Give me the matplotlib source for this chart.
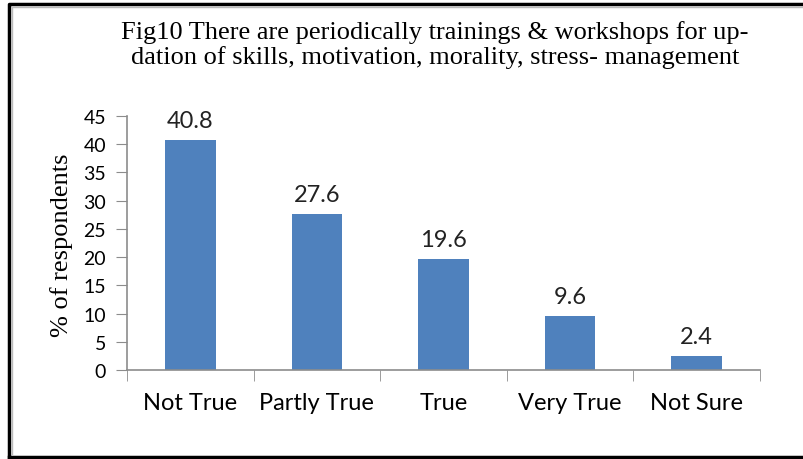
import matplotlib.pyplot as plt
from matplotlib.lines import Line2D

categories = ["Not True", "Partly True", "True", "Very True", "Not Sure"]
values = [40.8, 27.6, 19.6, 9.6, 2.4]
yticks = [0, 5, 10, 15, 20, 25, 30, 35, 40, 45]

W, H = 804, 460
fig = plt.figure(figsize=(W / 100, H / 100), dpi=100)
ax = fig.add_axes([127 / W, 1 - 371 / H, (760 - 127) / W, (371 - 117) / H])

x = list(range(len(categories)))
ax.bar(x, values, width=0.4, color="#4F81BD", zorder=2)
for xi, v in zip(x, values):
    ax.text(xi, v + 1.6, f"{v}", ha="center", va="bottom",
            family="Lato", fontsize=17, color="#222222")

ax.set_xlim(-0.5, len(categories) - 0.5)
ax.set_ylim(0, 45)
ax.set_yticks(yticks)
ax.set_yticklabels([str(t) for t in yticks], family="Lato", fontsize=14)
ax.set_xticks(x)
ax.set_xticklabels(categories, family="Lato", fontsize=17)
ax.tick_params(axis="x", length=0, pad=16)
ax.set_xticks([i - 0.5 for i in range(len(categories) + 1)], minor=True)
ax.tick_params(axis="x", which="minor", length=8, color="#8C8C8C", direction="out")
ax.tick_params(axis="y", length=8, color="#8C8C8C", direction="out", pad=7)

for side in ["top", "right"]:
    ax.spines[side].set_visible(False)
for side in ["left", "bottom"]:
    ax.spines[side].set_color("#8C8C8C")
    ax.spines[side].set_linewidth(1.2)

fig.text(62 / W, 1 - 245 / H, "% of respondents", rotation=90,
         ha="center", va="center", family="Liberation Serif", fontsize=19)

fig.text(435 / W, 1 - 45 / H,
         "Fig10 There are periodically trainings & workshops for up-\n"
         "dation of skills, motivation, morality, stress- management",
         ha="center", va="center", family="Liberation Serif", fontsize=19,
         linespacing=1.1)


# outer double border (right edge runs off the page)
def px_line(xs, ys, color, lw):
    fig.add_artist(Line2D([v / W for v in xs], [1 - v / H for v in ys],
                          transform=fig.transFigure, color=color, lw=lw))


px_line([9.5, 9.5, W + 5], [458, 5, 5], "black", 2.5)
px_line([9.5, W + 5], [458, 458], "black", 2.5)
px_line([12.5, 12.5, W + 5], [455, 8, 8], "#BBBBBB", 1.0)

fig.savefig("out.png", dpi=100)
